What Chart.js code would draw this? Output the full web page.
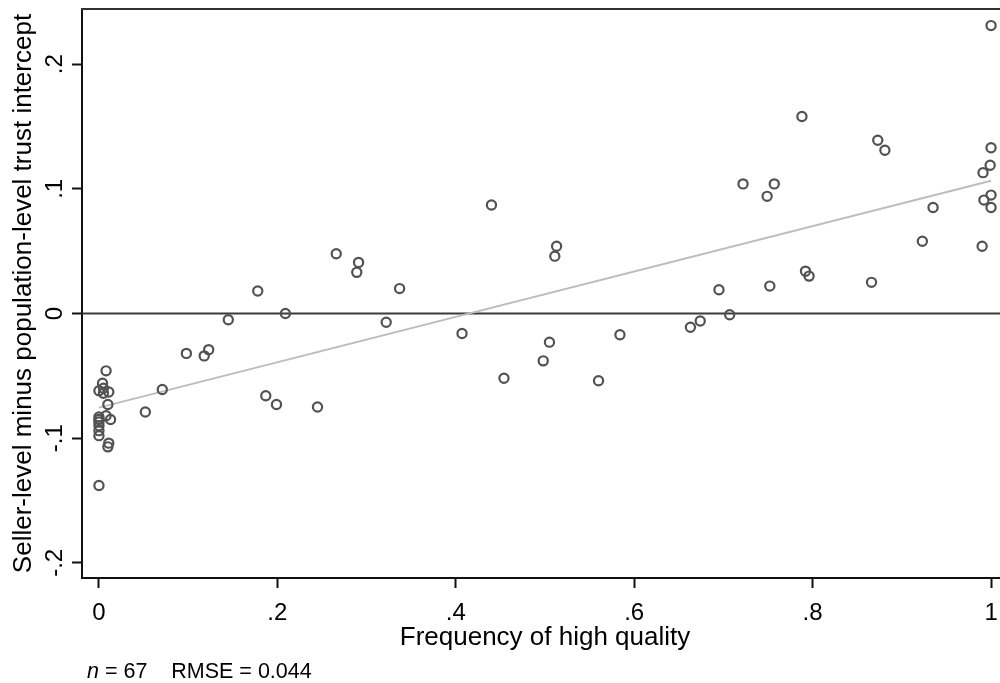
<!DOCTYPE html>
<html>
<head>
<meta charset="utf-8">
<script src="https://cdn.jsdelivr.net/npm/chart.js@4.4.1/dist/chart.umd.min.js"></script>
<style>
  html, body { margin:0; padding:0; background:#fff; overflow:hidden; }
  #wrap { position:absolute; left:0; top:0; width:1020px; height:683px; }
</style>
</head>
<body>
<div id="wrap"><canvas id="scatterChart" width="1020" height="683"></canvas></div>
<script>
// Dados (frequência de alta qualidade x intercepto de confiança)
const frequency = [
  0.008,0.004,0,0.005,0.011,0.010,0,0.008,0.013,0,0,0,0,0.011,0.010,0,0,0.005,
  0.052,0.071,0.098,0.118,0.123,0.145,0.178,0.209,0.187,0.199,0.245,0.266,0.291,0.289,0.322,
  0.337,0.407,0.440,0.454,0.498,0.505,0.513,0.511,0.560,0.584,0.663,0.674,0.695,0.707,0.722,
  0.757,0.749,0.752,0.788,0.792,0.796,0.866,0.873,0.881,0.923,0.935,0.990,0.992,0.991,0.999,
  1.0,1.0,1.0,1.0
];
const intercept = [
  -0.046,-0.056,-0.062,-0.064,-0.063,-0.073,-0.083,-0.082,-0.085,-0.087,-0.090,-0.094,-0.098,-0.104,-0.107,-0.138,-0.085,-0.060,
  -0.079,-0.061,-0.032,-0.034,-0.029,-0.005,0.018,0.000,-0.066,-0.073,-0.075,0.048,0.041,0.033,-0.007,
  0.020,-0.016,0.087,-0.052,-0.038,-0.023,0.054,0.046,-0.054,-0.017,-0.011,-0.006,0.019,-0.001,0.104,
  0.104,0.094,0.022,0.158,0.034,0.030,0.025,0.139,0.131,0.058,0.085,0.054,0.091,0.113,0.119,
  0.133,0.095,0.085,0.231
];
// reta ajustada (extremos)
const fitX = [0, 1];
const fitY = [-0.0755, 0.1065];

const xTicks = [0, 0.2, 0.4, 0.6, 0.8, 1];
const xTickLabels = ['0', '.2', '.4', '.6', '.8', '1'];
const yTicks = [-0.2, -0.1, 0, 0.1, 0.2];
const yTickLabels = ['-.2', '-.1', '0', '.1', '.2'];

const FONT = '"Liberation Sans", Arial, sans-serif';

// desenha moldura superior, linha do zero, rótulos do eixo y e nota n/RMSE
const extrasPlugin = {
  id: 'extras',
  beforeDatasetsDraw(chart) {
    const {ctx, chartArea, scales} = chart;
    const y0 = scales.y.getPixelForValue(0);
    ctx.save();
    ctx.strokeStyle = '#3a3a3a';
    ctx.lineWidth = 2;
    ctx.beginPath();
    ctx.moveTo(chartArea.left, y0);
    ctx.lineTo(chartArea.right, y0);
    ctx.stroke();
    ctx.restore();
  },
  afterDraw(chart) {
    const {ctx, chartArea, scales} = chart;
    ctx.save();
    // linha superior da moldura
    ctx.strokeStyle = '#333';
    ctx.lineWidth = 2;
    ctx.beginPath();
    ctx.moveTo(chartArea.left - 1, chartArea.top);
    ctx.lineTo(chartArea.right + 20, chartArea.top);
    ctx.stroke();

    // rótulos do eixo y, girados
    ctx.fillStyle = '#000';
    ctx.font = '24px ' + FONT;
    ctx.textAlign = 'center';
    ctx.textBaseline = 'alphabetic';
    yTicks.forEach((v, i) => {
      const py = scales.y.getPixelForValue(v);
      ctx.save();
      ctx.translate(62, py);
      ctx.rotate(-Math.PI / 2);
      ctx.fillText(yTickLabels[i], 0, 0);
      ctx.restore();
    });

    // nota inferior
    ctx.textAlign = 'left';
    ctx.font = 'italic 21.5px ' + FONT;
    ctx.fillText('n', 87, 678);
    const w = ctx.measureText('n').width;
    ctx.font = '21.5px ' + FONT;
    ctx.fillText(' = 67    RMSE = 0.044', 87 + w, 678);
    ctx.restore();
  }
};

const ctx = document.getElementById('scatterChart').getContext('2d');
new Chart(ctx, {
  type: 'scatter',
  data: {
    datasets: [
      {
        label: 'Fitted values',
        data: fitX.map((x, i) => ({x, y: fitY[i]})),
        showLine: true,
        borderColor: '#bdbdbd',
        borderWidth: 2,
        pointRadius: 0,
        order: 2
      },
      {
        label: 'Sellers',
        data: frequency.map((x, i) => ({x, y: intercept[i]})),
        pointRadius: 4.6,
        pointBorderWidth: 2.2,
        pointBackgroundColor: 'rgba(255,255,255,0)',
        pointBorderColor: '#525252',
        order: 1
      }
    ]
  },
  options: {
    responsive: false,
    animation: false,
    layout: { padding: { left: 0, right: 12, top: 9, bottom: 0 } },
    plugins: { legend: { display: false }, tooltip: { enabled: false } },
    scales: {
      x: {
        type: 'linear',
        min: -0.019,
        max: 1.019,
        afterBuildTicks: s => { s.ticks = xTicks.map(v => ({value: v})); },
        afterFit: s => { s.height = 105; },
        border: { display: true, color: '#111', width: 2 },
        grid: { drawOnChartArea: false, drawTicks: true, tickLength: 10, tickColor: '#111', tickWidth: 2 },
        ticks: {
          color: '#000',
          padding: 11,
          maxRotation: 0,
          font: { family: FONT, size: 24 },
          callback: (v) => xTickLabels[xTicks.indexOf(v)] ?? ''
        },
        title: {
          display: true,
          text: 'Frequency of high quality',
          color: '#000',
          font: { family: FONT, size: 26 },
          padding: { top: 0, bottom: 30 }
        }
      },
      y: {
        type: 'linear',
        min: -0.2122,
        max: 0.2443,
        afterBuildTicks: s => { s.ticks = yTicks.map(v => ({value: v})); },
        afterFit: s => { s.width = 82; },
        border: { display: true, color: '#111', width: 2 },
        grid: { drawOnChartArea: false, drawTicks: true, tickLength: 10, tickColor: '#111', tickWidth: 2 },
        ticks: { display: false },
        title: {
          display: true,
          text: 'Seller-level minus population-level trust intercept',
          color: '#000',
          font: { family: FONT, size: 26 },
          padding: { top: 8, bottom: 0 }
        }
      }
    }
  },
  plugins: [extrasPlugin]
});
</script>
</body>
</html>
